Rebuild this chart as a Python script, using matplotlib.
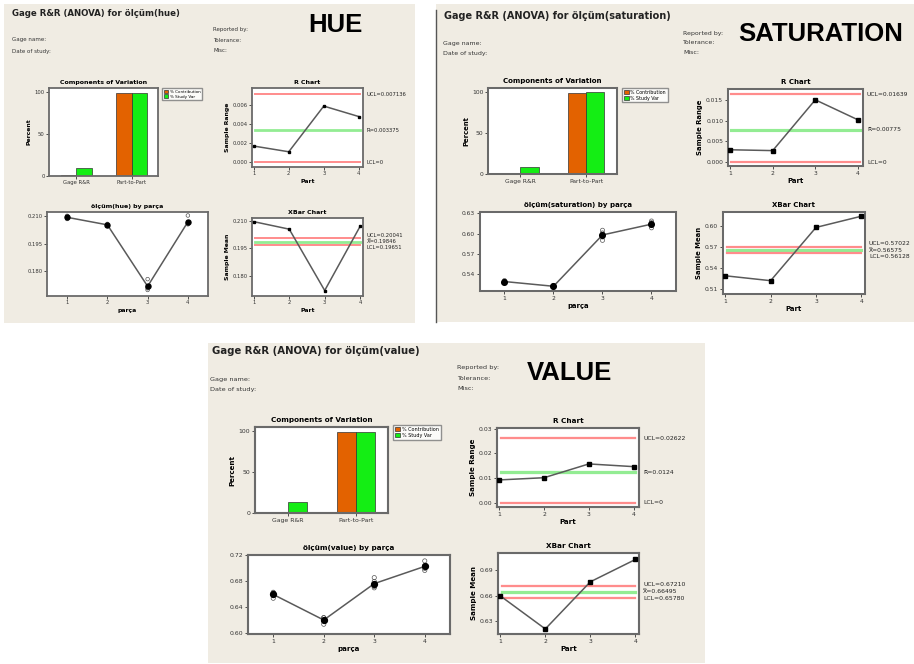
import numpy as np
import matplotlib.pyplot as plt
from matplotlib.patches import Rectangle
from matplotlib.ticker import FormatStrFormatter

W, H = 914, 664
BG = "#F0ECE3"
ORANGE = "#E36200"
GREEN = "#14EE14"
RED_LINE = "#FF8C8C"
GREEN_LINE = "#93EC93"
FRAME = "#6A6A6A"
DATA_LINE = "#5A5A5A"

parts = [1, 2, 3, 4]
cov_groups = ["Gage R&R", "Part-to-Part"]
cov_series = ["% Contribution", "% Study Var"]

# --- hue ---
hue_contrib = [1.0, 99.0]
hue_studyvar = [10.0, 99.5]
hue_obs = [
    [0.2086, 0.2093, 0.2095, 0.2098, 0.2103],
    [0.2048, 0.2052, 0.2055, 0.2056, 0.2059],
    [0.1699, 0.1708, 0.1712, 0.1718, 0.1758],
    [0.2057, 0.2060, 0.2063, 0.2065, 0.2105],
]
hue_r_limits = ["0.007136", "0.003375", "0"]
hue_x_limits = ["0.20041", "0.19846", "0.19651"]

# --- saturation ---
sat_contrib = [0.7, 99.3]
sat_studyvar = [8.2, 99.7]
sat_obs = [
    [0.5275, 0.5285, 0.5290, 0.5295, 0.5305],
    [0.5206, 0.5216, 0.5220, 0.5224, 0.5234],
    [0.5900, 0.5950, 0.5990, 0.6010, 0.6050],
    [0.6085, 0.6125, 0.6140, 0.6163, 0.6187],
]
sat_r_limits = ["0.01639", "0.00775", "0"]
sat_x_limits = ["0.57022", "0.56575", "0.56128"]

# --- value ---
val_contrib = [1.7, 98.3]
val_studyvar = [13.2, 99.1]
val_obs = [
    [0.6540, 0.6590, 0.6605, 0.6623, 0.6632],
    [0.6140, 0.6190, 0.6213, 0.6241, 0.6241],
    [0.6700, 0.6720, 0.6750, 0.6798, 0.6857],
    [0.6968, 0.7000, 0.7025, 0.7043, 0.7114],
]
val_r_limits = ["0.02622", "0.0124", "0"]
val_x_limits = ["0.67210", "0.66495", "0.65780"]

panels = [
    dict(name="HUE", var="hue", contrib=hue_contrib, studyvar=hue_studyvar, obs=hue_obs,
         r_lim=hue_r_limits, x_lim=hue_x_limits, s=1.0,
         bg=(4, 4, 415, 323), border=False, title=(12, 13),
         head_l=(12, 40, 51), head_r=(213, 30, 40, 51), big=(308, 25),
         cov=(49, 88, 158, 176), leg=(162, 88),
         r=(252, 88, 363, 167), by=(47, 212, 208, 296), xb=(252, 218, 363, 296),
         r_yl=(-0.0005, 0.0078), r_ticks=[0, 0.002, 0.004, 0.006], r_fmt="%.3f",
         x_yl=(0.1689, 0.2115), x_ticks=[0.180, 0.195, 0.210], x_fmt="%.3f",
         b_yl=(0.1666, 0.2124), b_ticks=[0.180, 0.195, 0.210], b_fmt="%.3f"),
    dict(name="SATURATION", var="saturation", contrib=sat_contrib, studyvar=sat_studyvar,
         obs=sat_obs, r_lim=sat_r_limits, x_lim=sat_x_limits, s=1.13,
         bg=(436, 4, 914, 322), border=True, title=(444, 16),
         head_l=(443, 43, 53), head_r=(683, 33, 43, 53), big=(738, 34),
         cov=(488, 88, 617, 174), leg=(622, 88),
         r=(728, 89, 863, 166), by=(480, 212, 676, 291), xb=(723, 212, 865, 294),
         r_yl=(-0.0009, 0.0176), r_ticks=[0, 0.005, 0.010, 0.015], r_fmt="%.3f",
         x_yl=(0.503, 0.620), x_ticks=[0.51, 0.54, 0.57, 0.60], x_fmt="%.2f",
         b_yl=(0.515, 0.632), b_ticks=[0.54, 0.57, 0.60, 0.63], b_fmt="%.2f"),
    dict(name="VALUE", var="value", contrib=val_contrib, studyvar=val_studyvar,
         obs=val_obs, r_lim=val_r_limits, x_lim=val_x_limits, s=1.17,
         bg=(208, 343, 705, 663), border=False, title=(212, 351),
         head_l=(210, 379, 389), head_r=(457, 368, 379, 389), big=(527, 373),
         cov=(255, 427, 388, 513), leg=(393, 425),
         r=(497, 428, 639, 507), by=(248, 555, 450, 634), xb=(498, 553, 639, 634),
         r_yl=(-0.0018, 0.0303), r_ticks=[0, 0.01, 0.02, 0.03], r_fmt="%.2f",
         x_yl=(0.6145, 0.7107), x_ticks=[0.63, 0.66, 0.69], x_fmt="%.2f",
         b_yl=(0.599, 0.7205), b_ticks=[0.60, 0.64, 0.68, 0.72], b_fmt="%.2f"),
]

fig = plt.figure(figsize=(W / 100, H / 100), dpi=100)
fig.patch.set_facecolor("white")


def add_ax(box):
    x0, y0, x1, y1 = box
    return fig.add_axes([x0 / W, 1 - y1 / H, (x1 - x0) / W, (y1 - y0) / H])


def ftext(x, y, s, **kw):
    fig.text(x / W, 1 - y / H, s, **kw)


def style(ax, s, xlabel=None, ylabel=None, title=None):
    for sp in ax.spines.values():
        sp.set_color(FRAME)
        sp.set_linewidth(1.3 * s)
    ax.tick_params(labelsize=3.8 * s, length=2 * s, width=0.6, pad=1.2,
                   colors="#333333", direction="out")
    if title:
        ax.set_title(title, fontsize=4.5 * s, fontweight="bold", pad=3 * s)
    if xlabel:
        ax.set_xlabel(xlabel, fontsize=4.4 * s, fontweight="bold", labelpad=1.5)
    if ylabel:
        ax.set_ylabel(ylabel, fontsize=4.4 * s, fontweight="bold", labelpad=2)


def limit_lines(ax, limits, names, s):
    vals = [float(v) for v in limits]
    for v, c, lw in zip(vals, [RED_LINE, GREEN_LINE, RED_LINE], [1.4, 2.0, 1.4]):
        ax.axhline(v, xmin=0.025, xmax=0.975, color=c, lw=lw * s, zorder=1)
    # keep the three labels apart when the limits sit close together
    fs = 3.8 * s
    gap = fs * 1.15
    pts = ax.transData.transform([(1, v) for v in vals])[:, 1] * 72 / fig.dpi
    pos = pts.copy()
    pos[0] = max(pos[0], pos[1] + gap)
    pos[2] = min(pos[2], pos[1] - gap)
    for v, txt, nm, p_, q in zip(vals, limits, names, pos, pts):
        ax.annotate(f"{nm}={txt}", xy=(1, v), xycoords=("axes fraction", "data"),
                    xytext=(2.5 * s, p_ - q), textcoords="offset points",
                    fontsize=fs, va="center", ha="left", color="#222222",
                    annotation_clip=False)


for p in panels:
    s = p["s"]
    obs = np.array(p["obs"])
    means = obs.mean(axis=1)
    ranges = obs.max(axis=1) - obs.min(axis=1)

    x0, y0, x1, y1 = p["bg"]
    fig.add_artist(Rectangle((x0 / W, 1 - y1 / H), (x1 - x0) / W, (y1 - y0) / H,
                             transform=fig.transFigure, facecolor=BG,
                             edgecolor="none", zorder=0))
    if p["border"]:
        fig.add_artist(plt.Line2D([x0 / W, x0 / W], [1 - y1 / H, 1 - (y0 + 6) / H],
                                  transform=fig.transFigure, color="#555555", lw=1.0))

    # header block
    ftext(*p["title"], f"Gage R&R (ANOVA) for ölçüm({p['var']})", fontsize=6.2 * s,
          fontweight="bold", va="center", color="#222222")
    hx, hy1, hy2 = p["head_l"]
    ftext(hx, hy1, "Gage name:", fontsize=4.0 * s, va="center", color="#333333")
    ftext(hx, hy2, "Date of study:", fontsize=4.0 * s, va="center", color="#333333")
    rx, ry1, ry2, ry3 = p["head_r"]
    for yy, t in zip([ry1, ry2, ry3], ["Reported by:", "Tolerance:", "Misc:"]):
        ftext(rx, yy, t, fontsize=4.0 * s, va="center", color="#333333")
    ftext(*p["big"], p["name"], fontsize=18.5, fontweight="bold", va="center",
          family="Liberation Sans", color="black")

    # components of variation
    ax = add_ax(p["cov"])
    xg = np.arange(len(cov_groups))
    bw = 0.28
    b1 = ax.bar(xg - bw / 2, p["contrib"], bw, color=ORANGE, edgecolor="#333333", lw=0.5)
    b2 = ax.bar(xg + bw / 2, p["studyvar"], bw, color=GREEN, edgecolor="#333333", lw=0.5)
    ax.set_xlim(-0.49, 1.47)
    ax.set_ylim(0, 105)
    ax.set_yticks([0, 50, 100])
    ax.set_xticks(xg, cov_groups)
    style(ax, s, ylabel="Percent", title="Components of Variation")
    lx, ly = p["leg"]
    leg = ax.legend([b1, b2], cov_series, loc="upper left",
                    bbox_to_anchor=(lx / W, 1 - ly / H), bbox_transform=fig.transFigure,
                    fontsize=3.0 * s, frameon=True, fancybox=False, borderpad=0.4,
                    handlelength=1.0, handleheight=0.9, handletextpad=0.4,
                    labelspacing=0.15, borderaxespad=0)
    leg.get_frame().set_edgecolor("#777777")
    leg.get_frame().set_linewidth(1.0)

    # R chart
    ax = add_ax(p["r"])
    ax.set_xlim(0.95, 4.12)
    ax.set_ylim(*p["r_yl"])
    limit_lines(ax, p["r_lim"], ["UCL", "R\u0304", "LCL"], s)
    ax.plot(parts, ranges, "-s", color=DATA_LINE, mfc="black", mec="black",
            ms=2.0 * s, lw=1.1, zorder=3)
    ax.set_xticks(parts)
    ax.set_yticks(p["r_ticks"])
    ax.yaxis.set_major_formatter(FormatStrFormatter(p["r_fmt"]))
    style(ax, s, xlabel="Part", ylabel="Sample Range", title="R Chart")

    # measurements by part
    ax = add_ax(p["by"])
    ax.scatter(np.repeat(parts, obs.shape[1]), obs.ravel(), s=(2.6 * s) ** 2,
               facecolors="none", edgecolors="#555555", linewidths=0.5, zorder=2)
    ax.plot(parts, means, "-o", color=DATA_LINE, mfc="black", mec="black",
            ms=3.6 * s, lw=1.1, zorder=3)
    ax.set_xlim(0.5, 4.5)
    ax.set_ylim(*p["b_yl"])
    ax.set_xticks(parts)
    ax.set_yticks(p["b_ticks"])
    ax.yaxis.set_major_formatter(FormatStrFormatter(p["b_fmt"]))
    style(ax, s, xlabel="parça", title=f"ölçüm({p['var']}) by parça")

    # Xbar chart
    ax = add_ax(p["xb"])
    ax.set_xlim(0.95, 4.08)
    ax.set_ylim(*p["x_yl"])
    limit_lines(ax, p["x_lim"], ["UCL", "X\u033f", "LCL"], s)
    ax.plot(parts, means, "-s", color=DATA_LINE, mfc="black", mec="black",
            ms=2.0 * s, lw=1.1, zorder=3)
    ax.set_xticks(parts)
    ax.set_yticks(p["x_ticks"])
    ax.yaxis.set_major_formatter(FormatStrFormatter(p["x_fmt"]))
    style(ax, s, xlabel="Part", ylabel="Sample Mean", title="XBar Chart")

fig.savefig("out.png", dpi=100, facecolor="white")
